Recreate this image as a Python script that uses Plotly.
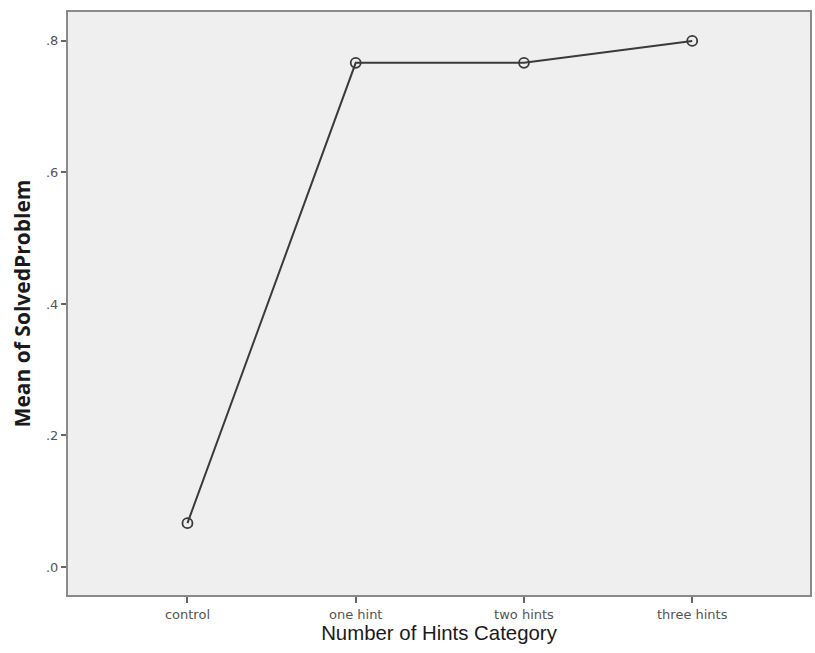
import plotly.graph_objects as go

# data
categories = ["control", "one hint", "two hints", "three hints"]
mean_solved = [0.0667, 0.7667, 0.7667, 0.80]
y_tick_vals = [0.0, 0.2, 0.4, 0.6, 0.8]
y_tick_text = [".0", ".2", ".4", ".6", ".8"]

fig = go.Figure()
fig.add_trace(
    go.Scatter(
        x=list(range(len(categories))),
        y=mean_solved,
        mode="lines+markers",
        line=dict(color="#3a3a3a", width=2),
        marker=dict(
            symbol="circle-open",
            size=10,
            color="#3a3a3a",
            line=dict(width=1.8, color="#3a3a3a"),
        ),
        hoverinfo="x+y",
    )
)

fig.update_layout(
    width=815,
    height=653,
    margin=dict(l=68, r=3, t=12, b=58),
    paper_bgcolor="white",
    plot_bgcolor="#efefef",
    showlegend=False,
    font=dict(family="DejaVu Sans, sans-serif", color="#333"),
    xaxis=dict(
        tickmode="array",
        tickvals=list(range(len(categories))),
        ticktext=categories,
        range=[-0.71, 3.70],
        showgrid=False,
        zeroline=False,
        showline=True,
        linecolor="#8a8a8a",
        linewidth=2,
        mirror=True,
        ticks="outside",
        ticklen=6,
        tickwidth=2,
        tickcolor="#666",
        tickfont=dict(size=13, color="#555"),
        title=dict(
            text="Number of Hints Category",
            font=dict(family="Liberation Sans, Arial, sans-serif", size=20.4, color="#1a1a1a"),
            standoff=4,
        ),
    ),
    yaxis=dict(
        tickmode="array",
        tickvals=y_tick_vals,
        ticktext=y_tick_text,
        range=[-0.0426, 0.844],
        showgrid=False,
        zeroline=False,
        showline=True,
        linecolor="#8a8a8a",
        linewidth=2,
        mirror=True,
        ticks="outside",
        ticklen=5,
        tickwidth=2,
        tickcolor="#666",
        tickfont=dict(size=13, color="#555"),
        title=dict(
            text="<b>Mean of SolvedProblem</b>",
            font=dict(family="Open Sans, sans-serif", size=21, color="#1a1a1a"),
            standoff=10,
        ),
    ),
)

# drop the default page margin so the 815x653 figure fills the window
fig.write_html(
    "out.html",
    config={"displayModeBar": False},
    post_script="document.body.style.margin='0';document.body.style.overflow='hidden';",
)
